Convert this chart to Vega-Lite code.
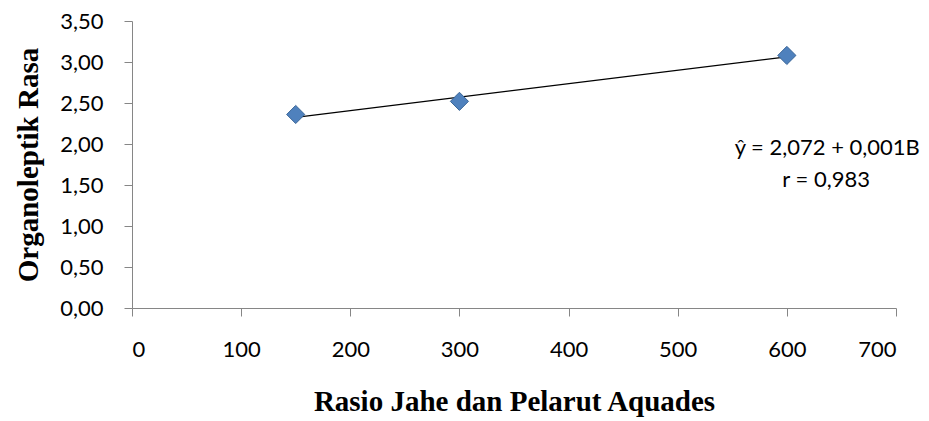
{
  "$schema": "https://vega.github.io/schema/vega-lite/v6.json",
  "width": 764,
  "height": 287,
  "autosize": {"type": "none"},
  "padding": {"left": 132, "top": 21, "right": 33, "bottom": 113},
  "background": "white",
  "config": {
    "view": {"stroke": null},
    "axis": {
      "grid": false,
      "domainColor": "#868686",
      "tickColor": "#868686",
      "tickSize": 8,
      "labelFont": "Lato",
      "labelFontSize": 22,
      "labelColor": "#000000",
      "titleFont": "Liberation Serif",
      "titleFontSize": 29,
      "titleFontWeight": "bold",
      "titleColor": "#000000"
    }
  },
  "datasets": {
    "pts": [
      {"rasio": 150, "rasa": 2.36},
      {"rasio": 300, "rasa": 2.52},
      {"rasio": 600, "rasa": 3.08}
    ],
    "notes": [
      {"x": 637, "y": 1.95, "label": "ŷ = 2,072 + 0,001B"},
      {"x": 636, "y": 1.56, "label": "r = 0,983"}
    ]
  },
  "layer": [
    {
      "data": {"name": "pts"},
      "transform": [{"regression": "rasa", "on": "rasio", "extent": [150, 600]}],
      "mark": {"type": "line", "color": "#000000", "strokeWidth": 1.3},
      "encoding": {
        "x": {
          "field": "rasio", "type": "quantitative",
          "scale": {"domain": [0, 700], "nice": false},
          "axis": {"values": [0, 100, 200, 300, 400, 500, 600, 700], "title": "Rasio Jahe dan Pelarut Aquades", "labelPadding": 23, "titlePadding": 27}
        },
        "y": {
          "field": "rasa", "type": "quantitative",
          "scale": {"domain": [0, 3.5], "nice": false},
          "axis": {"values": [0, 0.5, 1, 1.5, 2, 2.5, 3, 3.5], "labelExpr": "replace(format(datum.value, '.2f'), '.', ',')", "title": "Organoleptik Rasa", "labelPadding": 21, "titlePadding": 16}
        }
      }
    },
    {
      "data": {"name": "pts"},
      "mark": {"type": "point", "shape": "diamond", "filled": true, "size": 330, "color": "#4F81BD", "stroke": "#3A6698", "strokeWidth": 1, "opacity": 1},
      "encoding": {
        "x": {"field": "rasio", "type": "quantitative"},
        "y": {"field": "rasa", "type": "quantitative"}
      }
    },
    {
      "data": {"name": "notes"},
      "mark": {"type": "text", "font": "Lato", "fontSize": 22, "color": "#000000", "align": "center", "baseline": "middle"},
      "encoding": {
        "x": {"field": "x", "type": "quantitative"},
        "y": {"field": "y", "type": "quantitative"},
        "text": {"field": "label"}
      }
    }
  ]
}
